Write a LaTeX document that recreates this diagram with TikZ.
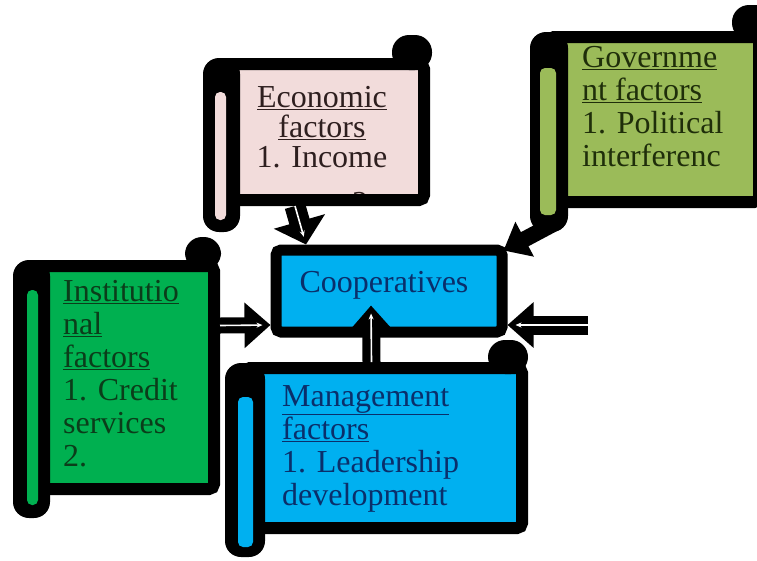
\documentclass[tikz,border=0pt]{standalone}
\usepackage{fontspec}
\setmainfont{Liberation Serif}
\usetikzlibrary{arrows.meta}

\definecolor{econpink}{HTML}{F2DCDB}
\definecolor{govgreen}{HTML}{9BBB59}
\definecolor{instgreen}{HTML}{00B050}
\definecolor{mgmtblue}{HTML}{00B0F0}
\definecolor{econink}{HTML}{2E1F1F}
\definecolor{govink}{HTML}{1F2E0A}
\definecolor{instink}{HTML}{0B3D1A}
\definecolor{blueink}{HTML}{0A2F6B}

\tikzstyle{frame} = [
    rectangle,
    draw=black,
    line width=12pt,
    rounded corners=5pt,
    inner sep=0pt
]
\tikzstyle{scrolltext} = [
    font=\fontsize{32}{33}\selectfont,
    align=left,
    inner sep=0pt,
    anchor=north west
]
\tikzstyle{rollbar} = [fill=black, rounded corners=16pt]
\tikzstyle{rollstrip} = [rounded corners=5pt]
\tikzstyle{curl} = [fill=black, rounded corners=17pt]
\tikzstyle{hollowarrow} = [
    line width=16pt,
    -{Triangle[length=26pt,width=44pt]},
    postaction={draw=white, line width=1.6pt, shorten >=8pt,
                -{Stealth[length=6pt,width=5pt]}}
]
\tikzstyle{solidarrow} = [line width=16pt, -{Triangle[length=24pt,width=38pt]}]

\begin{document}
\begin{tikzpicture}[x=1pt, y=-1pt]
\useasboundingbox (0,0) rectangle (757,560);

\node (econ) [frame, fill=econpink, minimum width=202pt, minimum height=136pt]
at (323,132) {};
\node (gov) [frame, fill=govgreen, minimum width=210pt, minimum height=165pt]
at (654,119.5) {};
\node (inst) [frame, fill=instgreen, minimum width=182pt, minimum height=223pt]
at (123,377.5) {};
\node (coop) [frame, fill=mgmtblue, line width=11pt, minimum width=226pt, minimum height=82pt]
at (389,291) {};
\node (mgmt) [frame, fill=mgmtblue, minimum width=277pt, minimum height=160pt]
at (383.5,448) {};

% rolled edges
\fill[rollbar] (203,58) rectangle (240,232);
\fill[rollstrip, fill=econpink] (215,92) rectangle (226,220);
\fill[curl] (392,35) rectangle (432,70);

\fill[rollbar] (530,32) rectangle (568,232);
\fill[rollstrip, fill=govgreen] (540,68) rectangle (556,215);
\fill[curl] (732,5) rectangle (772,40);

\fill[rollbar] (13,260) rectangle (50,518);
\fill[rollstrip, fill=instgreen] (27,290) rectangle (38,505);
\fill[curl] (185,237) rectangle (221,270);

\fill[rollbar] (225,363) rectangle (265,557);
\fill[rollstrip, fill=mgmtblue] (238,397) rectangle (253,547);
\fill[curl] (488,340) rectangle (528,374);

% texts
\node (econtxt) [scrolltext, font=\fontsize{32}{30}\selectfont, align=center, anchor=north, text=econink]
at (322,86) {\underline{Economic}\\\underline{factors}\\1. Income};
\begin{scope}
\clip (228,70) rectangle (418,193);
\node (econrest) [scrolltext, anchor=base, text=econink] at (360,213) {2};
\end{scope}

\node (govtxt) [scrolltext, text=govink]
at (582,46) {\underline{Governme}\\\underline{nt factors}\\1. Political\\interferenc};

\node (insttxt) [scrolltext, text=instink]
at (63,280) {\underline{Institutio}\\\underline{nal}\\\underline{factors}\\1. Credit\\services\\2.};

\node (mgmttxt) [scrolltext, text=blueink]
at (282,385) {\underline{Management}\\\underline{factors}\\1. Leadership\\development};

\node (cooptxt) [scrolltext, anchor=base, text=blueink] at (384,292) {Cooperatives};

\coordinate (outside) at (588,325);

\draw [hollowarrow] ([yshift=52pt]inst.east) -- ([yshift=-34pt]coop.west);
\draw [hollowarrow, line width=19pt] (outside) -- ([yshift=-34pt]coop.east);
\draw [hollowarrow, line width=21pt, -{Triangle[length=24pt,width=52pt]}] ([xshift=-28pt]econ.south) -- ([xshift=-83pt]coop.north);
\draw [solidarrow] ([xshift=14pt,yshift=-14pt]gov.south west) -- ([xshift=-4pt,yshift=-6pt]coop.north east);
\draw [hollowarrow, line width=18pt] ([xshift=-12pt]mgmt.north) -- ([xshift=-18pt,yshift=32pt]coop.south);

\end{tikzpicture}
\end{document}
